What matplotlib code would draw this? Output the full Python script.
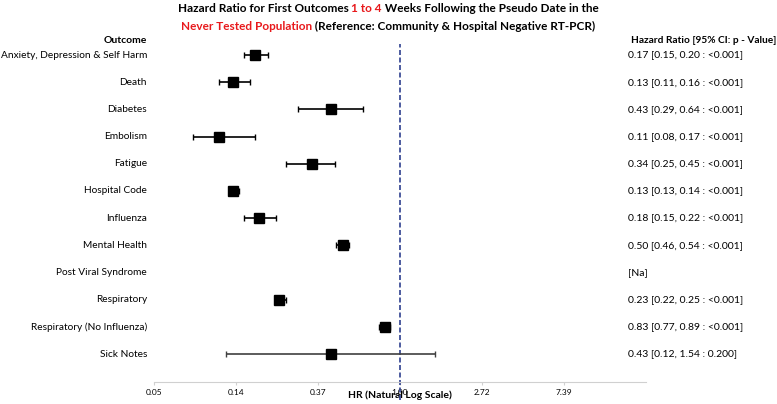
import numpy as np
import matplotlib.pyplot as plt

plt.rcParams['font.family'] = ['Lato', 'DejaVu Sans']

outcomes = ["Anxiety, Depression & Self Harm", "Death", "Diabetes", "Embolism",
            "Fatigue", "Hospital Code", "Influenza", "Mental Health",
            "Post Viral Syndrome", "Respiratory", "Respiratory (No Influenza)",
            "Sick Notes"]
hr = [0.17, 0.13, 0.43, 0.11, 0.34, 0.13, 0.18, 0.50, np.nan, 0.23, 0.83, 0.43]
ci_low = [0.15, 0.11, 0.29, 0.08, 0.25, 0.13, 0.15, 0.46, np.nan, 0.22, 0.77, 0.12]
ci_high = [0.20, 0.16, 0.64, 0.17, 0.45, 0.14, 0.22, 0.54, np.nan, 0.25, 0.89, 1.54]
p_text = ["<0.001"] * 11 + ["0.200"]
tick_logs = [-3, -2, -1, 0, 1, 2]

fig = plt.figure(figsize=(7.77, 4.04), dpi=100)
W, H = 777, 404
ax = fig.add_axes([154 / W, (H - 382) / H, 492 / W, 352 / H])

y = np.arange(len(outcomes))
lhr = np.log(hr)
err = [lhr - np.log(ci_low), np.log(ci_high) - lhr]
for i in range(len(outcomes)):
    if np.isnan(hr[i]):
        continue
    col = "#404040" if outcomes[i] == "Sick Notes" else "black"
    ax.errorbar(lhr[i], y[i], xerr=[[err[0][i]], [err[1][i]]], fmt="s", color="black",
                ecolor=col, ms=7, elinewidth=1.2, capsize=2, capthick=1, zorder=3)

ax.set_xlim(-3, 3)
ax.set_ylim(12.03, -0.92)
ax.axvline(0, ymin=-0.05, ymax=0.96, color="#2E3F8F", ls=(0, (3, 1.5)), lw=1.2,
           clip_on=False, zorder=2)

for s in ["top", "right", "left"]:
    ax.spines[s].set_visible(False)
ax.spines["bottom"].set_color("#D0D0D0")
ax.set_yticks([])
ax.set_xticks(tick_logs)
ax.set_xticklabels([f"{np.exp(t):.2f}" for t in tick_logs])
ax.tick_params(axis="x", length=2, color="#D0D0D0", labelsize=6, pad=3)
ax.set_xlabel("HR (Natural Log Scale)", fontsize=7.5, fontweight="bold", labelpad=-4)

yt = ax.get_yaxis_transform()
for i, name in enumerate(outcomes):
    ax.text(-0.014, y[i], name, transform=yt, ha="right", va="center", fontsize=7.3)
    if np.isnan(hr[i]):
        txt = "[Na]"
    else:
        txt = f"{hr[i]:.2f} [{ci_low[i]:.2f}, {ci_high[i]:.2f} : {p_text[i]}]"
    ax.text(0.963, y[i], txt, transform=yt, ha="left", va="center", fontsize=7.5)

ax.text(-0.014, -0.52, "Outcome", transform=yt, ha="right", va="center",
        fontsize=7.5, fontweight="bold")
ax.text(0.97, -0.52, "Hazard Ratio [95% CI: p - Value]", transform=yt, ha="left",
        va="center", fontsize=7.3, fontweight="bold")

# title with coloured pieces
title_lines = [
    [("Hazard Ratio for First Outcomes ", "black"), ("1 to 4", "#E8191C"),
     (" Weeks Following the Pseudo Date in the", "black")],
    [("Never Tested Population", "#E8191C"),
     (" (Reference: Community & Hospital Negative RT-PCR)", "black")],
]
renderer = fig.canvas.get_renderer()
for parts, ypix in zip(title_lines, [9, 26]):
    texts = [fig.text(0, 1 - ypix / H, s, color=c, fontsize=8.5, fontweight="bold",
                      va="center", ha="left") for s, c in parts]
    widths = [t.get_window_extent(renderer).width for t in texts]
    x0 = 388 - sum(widths) / 2
    for t, w in zip(texts, widths):
        t.set_x(x0 / W)
        x0 += w

fig.savefig("out.png", dpi=100)
